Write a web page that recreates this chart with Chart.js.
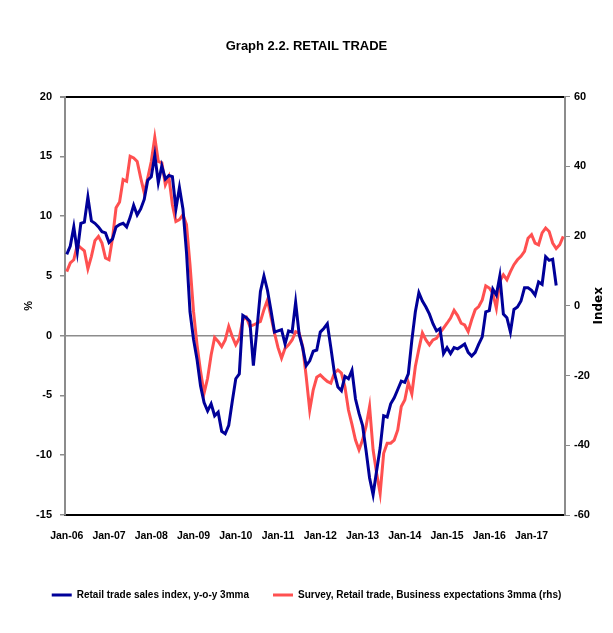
<!DOCTYPE html>
<html>
<head>
<meta charset="utf-8">
<script src="https://cdn.jsdelivr.net/npm/chart.js@4.4.0/dist/chart.umd.min.js"></script>
<style>
  html, body { margin: 0; padding: 0; background: #fff; }
  #wrap { width: 613px; height: 633px; }
</style>
</head>
<body>
<div id="wrap"><canvas id="chart" width="613" height="633"></canvas></div>
<script>
// monthly, Jan-06 .. Oct-17
const monthNames = ['Jan', 'Feb', 'Mar', 'Apr', 'May', 'Jun', 'Jul', 'Aug', 'Sep', 'Oct', 'Nov', 'Dec'];
const years = [6, 7, 8, 9, 10, 11, 12, 13, 14, 15, 16, 17];
const nMonths = 142;

// Retail trade sales index, y-o-y 3mma (%), ends Aug-17
const salesYoY = [
  6.8, 7.5, 9.1, 7.0, 9.4, 9.5, 11.6, 9.6, 9.4, 9.1, 8.7, 8.6,
  7.8, 8.1, 9.1, 9.3, 9.4, 9.1, 9.9, 10.9, 10.1, 10.6, 11.4, 13.0,
  13.3, 15.1, 12.8, 14.2, 13.1, 13.4, 13.3, 10.6, 12.4, 10.6, 7.0, 2.0,
  -0.3, -2.0, -4.2, -5.6, -6.3, -5.7, -6.7, -6.4, -8.0, -8.2, -7.5, -5.5,
  -3.6, -3.2, 1.7, 1.5, 1.2, -2.5, 0.5, 3.7, 5.0, 3.8, 2.1, 0.3,
  0.4, 0.5, -0.7, 0.4, 0.3, 2.8, 0.1, -1.0, -2.5, -2.1, -1.3, -1.2,
  0.3, 0.6, 1.0, -1.0, -3.1, -4.3, -4.6, -3.4, -3.6, -2.9, -5.3, -6.5,
  -7.5, -9.6, -11.9, -13.3, -11.3, -9.4, -6.7, -6.8, -5.7, -5.2, -4.5, -3.8,
  -3.9, -3.2, -0.4, 2.0, 3.6, 2.9, 2.4, 1.8, 1.0, 0.4, 0.6, -1.5,
  -1.0, -1.5, -1.0, -1.1, -0.9, -0.7, -1.4, -1.7, -1.4, -0.7, -0.1, 2.0,
  2.1, 3.9, 3.4, 5.0, 1.8, 1.5, 0.3, 2.2, 2.4, 2.9, 4.0, 4.0,
  3.8, 3.4, 4.5, 4.3, 6.6, 6.3, 6.4, 4.2
];

// Survey, Retail trade, Business expectations 3mma (index, rhs)
const surveyExp = [
  9.8, 12.3, 13.2, 17.5, 16.6, 15.8, 10.6, 14.2, 18.7, 19.9, 18.0, 13.7,
  13.2, 19.4, 28.1, 29.8, 36.2, 35.7, 42.9, 42.4, 41.4, 36.7, 32.4, 36.7,
  41.4, 48.3, 41.4, 41.0, 34.7, 37.0, 29.0, 24.2, 24.7, 26.1, 23.3, 11.8,
  -1.6, -11.2, -18.8, -25.1, -20.8, -14.1, -9.1, -10.2, -11.7, -9.8, -5.9, -8.8,
  -11.2, -9.3, -4.0, -3.3, -5.9, -5.5, -5.0, -4.5, -1.1, 1.7, -3.1, -7.8,
  -12.0, -15.0, -12.2, -11.2, -9.8, -7.4, -7.8, -11.7, -20.3, -29.9, -24.1, -20.5,
  -19.8, -20.8, -21.7, -22.2, -19.3, -18.4, -19.3, -23.2, -29.9, -34.0, -38.5, -41.3,
  -38.5, -34.6, -28.9, -41.3, -48.0, -53.8, -42.3, -39.4, -39.4, -38.5, -35.6, -28.9,
  -27.0, -22.0, -25.3, -17.4, -12.4, -7.8, -9.8, -11.2, -9.8, -9.3, -7.8, -6.4,
  -5.0, -3.5, -1.3, -2.8, -5.0, -5.5, -7.4, -4.0, -1.1, -0.2, 1.7, 5.7,
  5.1, 3.6, -0.7, 7.0, 8.9, 7.5, 9.8, 11.8, 13.2, 14.2, 15.6, 19.4,
  20.4, 18.0, 17.5, 20.9, 22.3, 21.3, 18.0, 16.4, 17.5, 19.9
];

const leftTicks = [-15, -10, -5, 0, 5, 10, 15, 20];
const rightTicks = [-60, -40, -20, 0, 20, 40, 60];

const labels = [];
years.forEach(y => monthNames.forEach(m => labels.push(m + '-' + String(y).padStart(2, '0'))));
labels.length = nMonths;

Chart.defaults.font.family = "'Liberation Sans', Arial, sans-serif";
Chart.defaults.color = '#000';

const indexLabel = {
  id: 'indexLabel',
  afterDraw(chart) {
    const { ctx, chartArea } = chart;
    ctx.save();
    ctx.translate(599, (chartArea.top + chartArea.bottom) / 2);
    ctx.rotate(-Math.PI / 2);
    ctx.font = "bold 12px 'DejaVu Sans', sans-serif";
    ctx.fillStyle = '#000';
    ctx.textAlign = 'center';
    ctx.textBaseline = 'middle';
    ctx.fillText('Index', 0, 0);
    ctx.restore();
  }
};

new Chart(document.getElementById('chart'), {
  type: 'line',
  data: {
    labels: labels,
    datasets: [
      {
        label: 'Retail trade sales index, y-o-y 3mma',
        data: salesYoY,
        yAxisID: 'y',
        borderColor: '#000099',
        backgroundColor: '#000099',
        borderWidth: 3,
        pointRadius: 0,
        tension: 0
      },
      {
        label: 'Survey, Retail trade, Business expectations 3mma (rhs)',
        data: surveyExp,
        yAxisID: 'y1',
        borderColor: '#ff5050',
        backgroundColor: '#ff5050',
        borderWidth: 3,
        pointRadius: 0,
        tension: 0
      }
    ]
  },
  options: {
    responsive: false,
    animation: false,
    layout: { padding: { left: 0, right: 0, top: 0, bottom: 23 } },
    plugins: {
      title: {
        display: true,
        text: 'Graph 2.2. RETAIL TRADE',
        font: { size: 13, weight: 'bold' },
        padding: { top: 39, bottom: 42 }
      },
      legend: {
        position: 'bottom',
        labels: {
          boxWidth: 20,
          boxHeight: 3,
          padding: 24,
          font: { size: 10, weight: 'bold' },
          generateLabels(chart) {
            return chart.data.datasets.map((ds, i) => ({
              text: ds.label,
              fillStyle: ds.borderColor,
              strokeStyle: ds.borderColor,
              lineWidth: 0,
              datasetIndex: i
            }));
          }
        }
      },
      tooltip: { enabled: false }
    },
    scales: {
      x: {
        offset: true,
        grid: { display: false, drawTicks: false },
        border: { display: true, color: '#000', width: 2 },
        ticks: {
          autoSkip: false,
          maxRotation: 0,
          padding: 15,
          font: { size: 10.5, weight: 'bold' },
          callback: (v, i) => (i % 12 === 0 ? labels[i] : '')
        },
        afterFit: s => { s.height = 51; }
      },
      y: {
        position: 'left',
        min: -15,
        max: 20,
        afterBuildTicks: s => { s.ticks = leftTicks.map(v => ({ value: v })); },
        grid: {
          color: c => (c.tick.value === 0 ? '#8c8c8c' : c.tick.value === 20 ? '#000' : 'rgba(0,0,0,0)'),
          lineWidth: c => (c.tick.value === 20 ? 2 : 1.5),
          tickColor: '#8c8c8c',
          tickLength: 5
        },
        border: { display: true, color: '#8c8c8c', width: 2 },
        ticks: { padding: 8, font: { size: 11, weight: 'bold' } },
        title: { display: true, text: '%', font: { size: 11, weight: 'bold' }, padding: { top: 22, bottom: 0 } },
        afterFit: s => { s.width = 65; }
      },
      y1: {
        position: 'right',
        min: -60,
        max: 60,
        afterBuildTicks: s => { s.ticks = rightTicks.map(v => ({ value: v })); },
        grid: { drawOnChartArea: false, tickColor: '#8c8c8c', tickLength: 5 },
        border: { display: true, color: '#8c8c8c', width: 2 },
        ticks: { padding: 4, font: { size: 11, weight: 'bold' } },
        afterFit: s => { s.width = 48; }
      }
    }
  },
  plugins: [indexLabel]
});
</script>
</body>
</html>
